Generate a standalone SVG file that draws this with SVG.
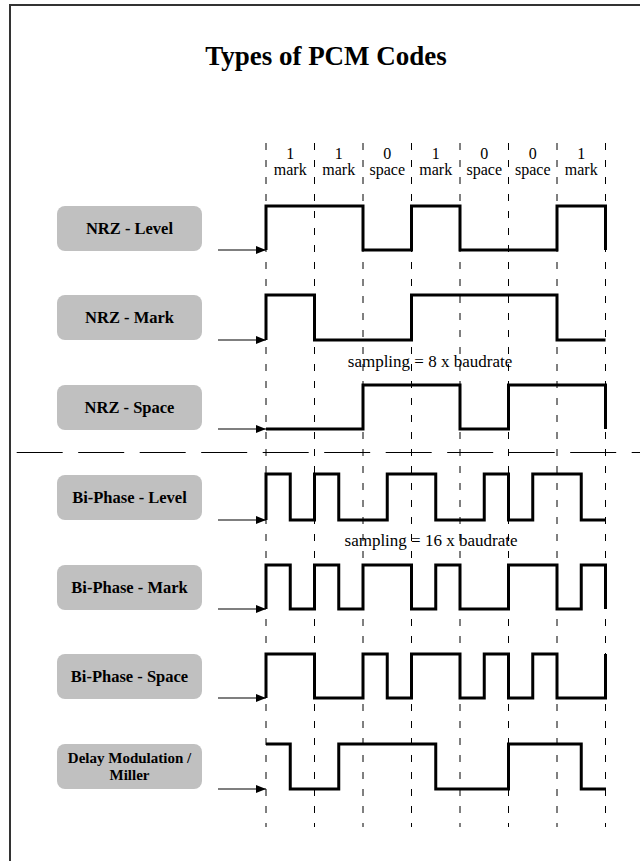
<svg xmlns="http://www.w3.org/2000/svg" width="640" height="861" viewBox="0 0 640 861">
<defs>
<marker id="arr" markerWidth="10" markerHeight="8" refX="10" refY="4" orient="auto" markerUnits="userSpaceOnUse">
<path d="M0,0 L10,4 L0,8 Z" fill="#000"/>
</marker>
<style>
.vd{stroke:#000;stroke-width:1;stroke-dasharray:7 10;fill:none}
.wave{stroke:#000;stroke-width:3;fill:none;stroke-linejoin:miter}
.box{fill:#c0c0c0}
.lbl{font-family:"Liberation Serif","Times New Roman",serif;font-weight:bold;font-size:16.5px;text-anchor:middle;fill:#000}
.lbl2{font-family:"Liberation Serif","Times New Roman",serif;font-weight:bold;font-size:15px;text-anchor:middle;fill:#000}
.hdr{font-family:"Liberation Serif","Times New Roman",serif;font-size:16px;text-anchor:middle;fill:#000}
.smp{font-family:"Liberation Serif","Times New Roman",serif;font-size:17px;text-anchor:middle;fill:#000}
.arrow{stroke:#000;stroke-width:1.2;fill:none}
</style>
</defs>
<rect x="10" y="5" width="660" height="900" fill="#fff" stroke="#333" stroke-width="2"/>
<text x="326" y="65" font-family="'Liberation Serif','Times New Roman',serif" font-weight="bold" font-size="27" text-anchor="middle">Types of PCM Codes</text>
<g id="grid">
<path class="vd" d="M266,143V827M314.5,143V827M363,143V827M411.5,143V827M460,143V827M508.5,143V827M557,143V827M605.5,143V827"/>
<path d="M16.7,452.5H640" stroke="#000" stroke-width="1" stroke-dasharray="46 15.5"/>
</g>
<g id="header">
<text class="hdr" x="290.25" y="159">1</text><text class="hdr" x="338.75" y="159">1</text><text class="hdr" x="387.25" y="159">0</text><text class="hdr" x="435.75" y="159">1</text><text class="hdr" x="484.25" y="159">0</text><text class="hdr" x="532.75" y="159">0</text><text class="hdr" x="581.25" y="159">1</text>
<text class="hdr" x="290.25" y="175">mark</text><text class="hdr" x="338.75" y="175">mark</text><text class="hdr" x="387.25" y="175">space</text><text class="hdr" x="435.75" y="175">mark</text><text class="hdr" x="484.25" y="175">space</text><text class="hdr" x="532.75" y="175">space</text><text class="hdr" x="581.25" y="175">mark</text>
<text class="smp" x="430" y="367">sampling = 8 x baudrate</text>
<text class="smp" x="431" y="546">sampling = 16 x baudrate</text>
</g>
<g id="nrz-level"><rect class="box" x="57" y="206" width="145" height="45" rx="8"/><text class="lbl" x="129.5" y="234">NRZ - Level</text></g>
<g id="nrz-mark"><rect class="box" x="57" y="295" width="145" height="45" rx="8"/><text class="lbl" x="129.5" y="323">NRZ - Mark</text></g>
<g id="nrz-space"><rect class="box" x="57" y="385" width="145" height="45" rx="8"/><text class="lbl" x="129.5" y="413">NRZ - Space</text></g>
<g id="bp-level"><rect class="box" x="57" y="475" width="145" height="45" rx="8"/><text class="lbl" x="129.5" y="503">Bi-Phase - Level</text></g>
<g id="bp-mark"><rect class="box" x="57" y="565" width="145" height="45" rx="8"/><text class="lbl" x="129.5" y="593">Bi-Phase - Mark</text></g>
<g id="bp-space"><rect class="box" x="57" y="654" width="145" height="45" rx="8"/><text class="lbl" x="129.5" y="682">Bi-Phase - Space</text></g>
<g id="miller"><rect class="box" x="57" y="744" width="145" height="45" rx="8"/><text class="lbl2" x="129.5" y="763">Delay Modulation /</text><text class="lbl2" x="129.5" y="780">Miller</text></g>
<g id="connectors">
<path class="arrow" d="M218,250H266" marker-end="url(#arr)"/>
<path class="arrow" d="M218,340H266" marker-end="url(#arr)"/>
<path class="arrow" d="M218,429H266" marker-end="url(#arr)"/>
<path class="arrow" d="M218,520H266" marker-end="url(#arr)"/>
<path class="arrow" d="M218,609H266" marker-end="url(#arr)"/>
<path class="arrow" d="M218,698H266" marker-end="url(#arr)"/>
<path class="arrow" d="M218,789H266" marker-end="url(#arr)"/>
</g>
<g id="waves">
<path class="wave" d="M266,250V206H363V250H411.5V206H460V250H557V206H605.5V250"/>
<path class="wave" d="M266,340V295H314.5V340H411.5V295H557V340H605.5"/>
<path class="wave" d="M266,429H363V385H460V429H508.5V385H605.5V429"/>
<path class="wave" d="M266,520V474H290.25V520H314.5V474H338.75V520H387.25V474H435.75V520H484.25V474H508.5V520H532.75V474H581.25V520H605.5"/>
<path class="wave" d="M266,609V565H290.25V609H314.5V565H338.75V609H363V565H411.5V609H435.75V565H460V609H508.5V565H557V609H581.25V565H605.5V609"/>
<path class="wave" d="M266,698V654H314.5V698H363V654H387.25V698H411.5V654H460V698H484.25V654H508.5V698H532.75V654H557V698H605.5V654"/>
<path class="wave" d="M266,744H290.25V789H338.75V744H435.75V789H508.5V744H581.25V789H606"/>
</g>
</svg>
